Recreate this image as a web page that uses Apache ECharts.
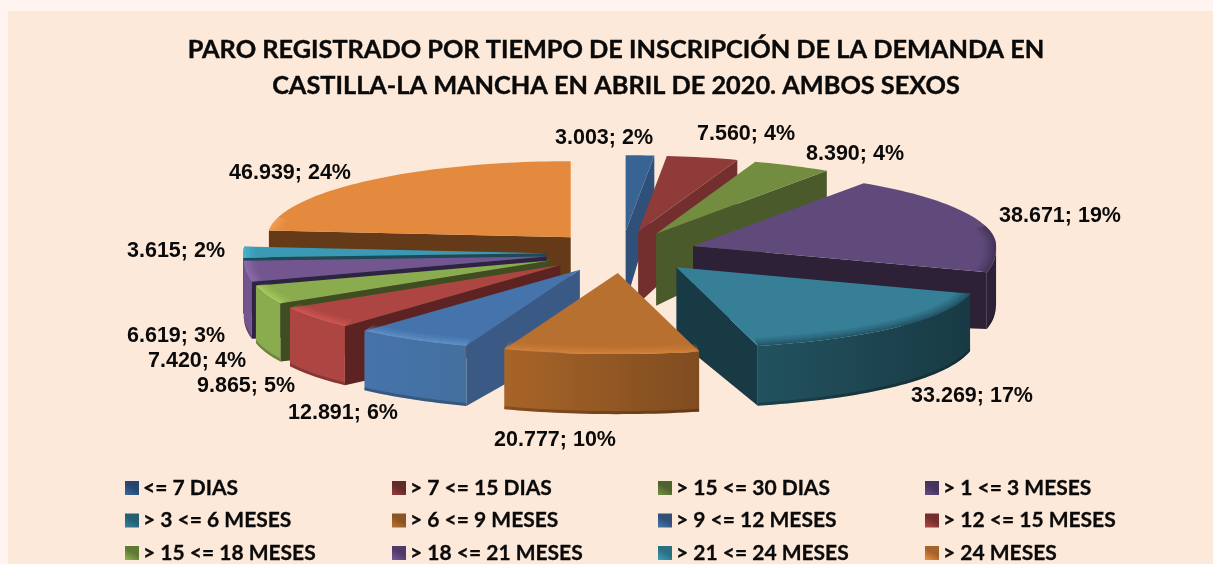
<!DOCTYPE html>
<html>
<head>
<meta charset="utf-8">
<style>html,body{margin:0;padding:0;background:#fff4f0;overflow:hidden}#c{width:1213px;height:564px}</style>
<script src="https://cdn.jsdelivr.net/npm/echarts@6/dist/echarts.min.js"></script>
</head>
<body>
<div id="c"></div>
<script>
var titleLines = ['PARO REGISTRADO POR TIEMPO DE INSCRIPCIÓN DE LA DEMANDA EN', 'CASTILLA-LA MANCHA EN ABRIL DE 2020. AMBOS SEXOS'];
var categories = ['<= 7 DIAS', '> 7 <= 15 DIAS', '> 15 <= 30 DIAS', '> 1 <= 3 MESES', '> 3 <= 6 MESES', '> 6 <= 9 MESES', '> 9 <= 12 MESES', '> 12 <= 15 MESES', '> 15 <= 18 MESES', '> 18 <= 21 MESES', '> 21 <= 24 MESES', '> 24 MESES'];
var values = [3003, 7560, 8390, 38671, 33269, 20777, 12891, 9865, 7420, 6619, 3615, 46939];

// styles: top surface, radial wall, outer wall left/right, bevel rim
var topColors = ['#386493', '#8f3b39', '#728c40', '#604a7b', '#367f97', '#b87030', '#4573ab', '#ad4643', '#8bab4f', '#73568f', '#3a9ab5', '#e38a3f'];
var radialColors = ['#2f5079', '#732f2e', '#4b5a2a', '#2c2136', '#183a44', '#7a4a20', '#3a5a85', '#5d2322', '#3f4d20', '#2e2340', '#1c4a58', '#653a18'];
var wallLeft = ['#2f5079', '#732f2e', '#4b5a2a', '#2c2136', '#22525f', '#a86428', '#4573ab', '#ad4643', '#8bab4f', '#73568f', '#3a9ab5', '#a86428'];
var wallRight = ['#2f5079', '#732f2e', '#4b5a2a', '#2c2136', '#183a44', '#7f4c20', '#44709f', '#ad4643', '#8bab4f', '#73568f', '#3a9ab5', '#a86428'];
var rimColors = ['#386493', '#8f3b39', '#728c40', '#3a2c4c', '#1d4653', '#d9863c', '#6a9ad3', '#dc5c58', '#b2d463', '#9274b4', '#4bb8d4', '#f6a458'];
var legendDark = ['#254670', '#622a2a', '#4f6330', '#46345e', '#245f72', '#8a5424', '#2f5079', '#732f2e', '#5f7a34', '#503a6a', '#2a7084', '#a5622a'];
var labelPos = [[604, 138], [746, 134], [855, 154], [1060, 216], [972, 396], [555, 440], [343, 413], [246, 386], [197, 361], [176, 336], [176, 251], [290, 173]];

var cx = 622, cy = 254, explode = 76, rx = 303, ryBack = 76, ryFront = 81, frontPow = 0.8, apexDepth = 72;
var total = values.reduce(function (a, b) { return a + b; }, 0);
var rad = Math.PI / 180;

var angles = [0];
values.forEach(function (v, i) { angles.push(angles[i] + v / total * 360); });

function fmt(v) { return String(v).replace(/\B(?=(\d{3})+$)/g, '.'); }
function depthAt(y) { return 52 + (y - 160) / 190 * 8; }
function apex(m) {
  var c = Math.cos(m * rad);
  return [cx + explode * Math.sin(m * rad), cy - explode * c * (c > 0 ? 0.3 : 0.25)];
}
function edge(ap, a, kx, ky) {
  var c = Math.cos(a * rad);
  var dy = c > 0 ? c * ryBack : -Math.pow(-c, frontPow) * ryFront;
  return [ap[0] + rx * kx * Math.sin(a * rad), ap[1] - dy * ky];
}
function arc(ap, a0, a1, kx, ky) {
  var pts = [], n = Math.max(2, Math.ceil((a1 - a0) / 1.5));
  for (var i = 0; i <= n; i++) pts.push(edge(ap, a0 + (a1 - a0) * i / n, kx, ky));
  return pts;
}
function down(p) { return [p[0], p[1] + depthAt(p[1])]; }
function hGrad(l, r) {
  return { type: 'linear', x: 0, y: 0, x2: 1, y2: 0, colorStops: [{ offset: 0, color: l }, { offset: 1, color: r }] };
}
function renderSlice(params, api) {
  var i = params.seriesIndex;
  var v = api.value(0);
  var a0 = angles[i], a1 = angles[i + 1], m = (a0 + a1) / 2;
  var ap = apex(m);
  var kids = [];
  function poly(points, fill, opacity) {
    kids.push({ type: 'polygon', shape: { points: points }, style: { fill: fill, opacity: opacity === undefined ? 1 : opacity } });
  }
  function radial(a) {
    var e = edge(ap, a, 1, 1);
    poly([ap, e, down(e), [ap[0], ap[1] + apexDepth]], radialColors[i]);
  }
  if (Math.sin(a1 * rad) > 0) radial(a1);
  if (Math.sin(a0 * rad) < 0) radial(a0);
  var w0 = Math.max(a0, 90), w1 = Math.min(a1, 270);
  if (w1 > w0) {
    var up = arc(ap, w0, w1, 1, 1);
    var low = up.map(down);
    poly(up.concat(low.slice().reverse()), hGrad(wallLeft[i], wallRight[i]));
    var lip = low.map(function (p) { return [p[0], p[1] - 3]; });
    poly(lip.concat(low.slice().reverse()), '#000000', 0.22);
  }
  poly([ap].concat(arc(ap, a0, a1, 1, 1)), topColors[i]);
  // bevel: soft strips along the outer edge, only where the rim faces the viewer
  var r0 = a0, r1 = a1;
  if (a1 <= 90) { r1 = r0; }
  else if (a0 < 75) { r0 = 75; }
  if (a0 >= 285) { r1 = r0; }
  else if (a1 > 285) { r1 = 285; }
  if (r1 > r0) {
    [[0.9, 0.15], [0.925, 0.3], [0.95, 0.5], [0.975, 0.7]].forEach(function (s) {
      var outer = arc(ap, r0, r1, 1 - (1 - s[0] - 0.025) * 0.4, s[0] + 0.025);
      var inner = arc(ap, r0, r1, 1 - (1 - s[0]) * 0.4, s[0]);
      poly(outer.concat(inner.reverse()), rimColors[i], s[1]);
    });
  }
  kids.push({
    type: 'text', x: labelPos[i][0], y: labelPos[i][1], z2: 50,
    style: {
      text: fmt(v) + '; ' + Math.round(v / total * 100) + '%',
      fill: '#0a0a0a', font: 'bold 21.5px "Liberation Sans"', align: 'center', verticalAlign: 'middle'
    }
  });
  return { type: 'group', children: kids };
}

var series = categories.map(function (name, i) {
  var m = (angles[i] + angles[i + 1]) / 2;
  return {
    type: 'custom', name: name, coordinateSystem: 'none', silent: true, animation: false,
    z: 5 + (1 - Math.cos(m * rad)) * 5,
    itemStyle: { color: topColors[i] },
    renderItem: renderSlice,
    data: [[values[i]]]
  };
});

var legendTop = 476, legendX = [125, 392, 658, 925];
var legends = legendX.map(function (x, col) {
  return {
    orient: 'vertical', left: x, top: legendTop, height: 140, width: 280, itemGap: 8.5, itemWidth: 14, itemHeight: 14,
    padding: 0, selectedMode: false, icon: 'rect',
    textStyle: { fontFamily: 'Lato', fontWeight: 'bold', fontSize: 21, color: '#0a0a0a', padding: [0, 0, 0, -1], lineHeight: 24, textBorderColor: '#0a0a0a', textBorderWidth: 0.3 },
    data: [0, 1, 2].map(function (row) {
      var idx = row * 4 + col;
      return {
        name: categories[idx],
        itemStyle: { color: { type: 'linear', x: 0.8, y: 0, x2: 0.2, y2: 1, colorStops: [{ offset: 0, color: legendDark[idx] }, { offset: 0.45, color: legendDark[idx] }, { offset: 1, color: topColors[idx] }] } }
      };
    })
  };
});

var chart = echarts.init(document.getElementById('c'), null, { renderer: 'canvas' });
chart.setOption({
  backgroundColor: '#fff4f0',
  animation: false,
  graphic: { elements: [{ type: 'rect', z: -10, silent: true, shape: { x: 8, y: 11, width: 1205, height: 553 }, style: { fill: '#fde9d9' } }] },
  title: {
    text: titleLines.join('\n'), left: 611, top: 27, textAlign: 'center',
    textStyle: { fontFamily: 'Lato', fontWeight: 'bold', fontSize: 25.3, lineHeight: 36, color: '#0a0a0a', textBorderColor: '#0a0a0a', textBorderWidth: 0.4 }
  },
  legend: legends,
  series: series
});
</script>
</body>
</html>
